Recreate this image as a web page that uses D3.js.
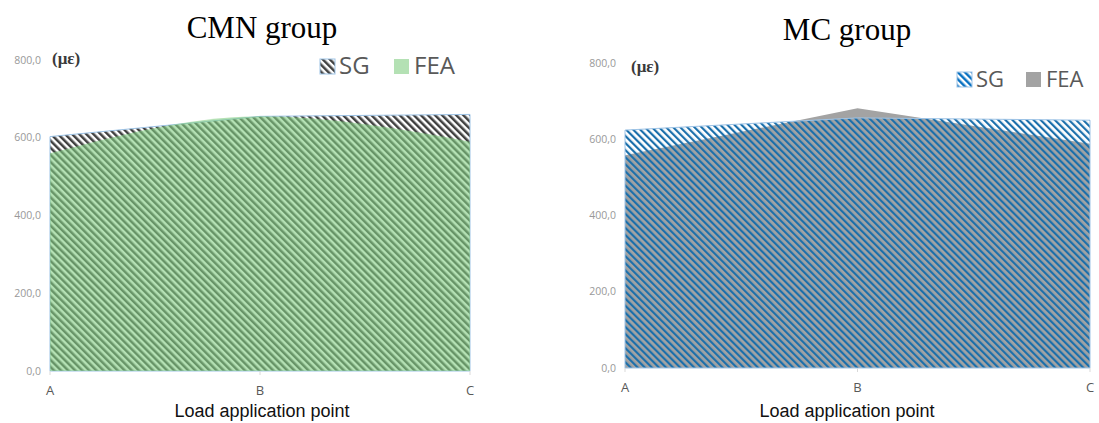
<!DOCTYPE html>
<html><head><meta charset="utf-8">
<script src="https://cdn.jsdelivr.net/npm/d3@7"></script>
<style>body{margin:0;background:#fff}svg{display:block}</style>
</head><body>
<svg id="c" width="1099" height="423"></svg>
<script>
const categories = ["A", "B", "C"];
const yTicks = [0, 200, 400, 600, 800];
const cmnSG  = [603, 655, 660];
const cmnFEA = [560, 655, 590];
const mcSG   = [624, 656, 650];
const mcFEA  = [558, 681, 588];

const svg = d3.select("#c");
const defs = svg.append("defs");
function hatch(id, fg, bg, fgOpacity, w) {
  const p = defs.append("pattern").attr("id", id).attr("patternUnits", "userSpaceOnUse")
    .attr("width", 5).attr("height", 5).attr("patternTransform", "rotate(-45)");
  if (bg) p.append("rect").attr("width", 5).attr("height", 5).attr("fill", bg);
  p.append("rect").attr("width", w).attr("height", 5).attr("fill", fg).attr("fill-opacity", fgOpacity);
}
hatch("hBlack", "#404040", "#ffffff", 1, 2.5);
hatch("hBlue", "#1b6fab", null, 1, 2.2);
hatch("hBlueLeg", "#0a72c2", "#ffffff", 1, 2.5);

const fmt = v => d3.format(".1f")(v).replace(".", ",");

function drawChart(o) {
  const x = d3.scalePoint().domain(categories).range([o.x0, o.x1]);
  const y = d3.scaleLinear().domain([0, 800]).range([o.y0, o.y1]);
  const g = svg.append("g");
  g.selectAll(".yt").data(yTicks).join("text")
    .attr("x", o.x0 - 9).attr("y", d => y(d)).attr("dy", "0.35em")
    .attr("text-anchor", "end").attr("font-family", "Open Sans, sans-serif")
    .attr("font-size", 10.5).attr("fill", "#999").text(fmt);
  const sgArea = d3.area().x((d, i) => x(categories[i])).y0(y(0)).y1(d => y(d));
  const feaArea = d3.area().x((d, i) => x(categories[i])).y0(y(0)).y1(d => y(d)).curve(o.feaCurve);
  const sgPath = () => g.append("path").datum(o.sg).attr("d", sgArea).attr("fill", o.sgFill)
    .attr("stroke", o.sgStroke).attr("stroke-width", 1);
  const feaPath = () => g.append("path").datum(o.fea).attr("d", feaArea).attr("fill", o.feaColor)
    .attr("fill-opacity", o.feaOpacity);
  if (o.sgOnTop) { feaPath(); sgPath(); } else { sgPath(); feaPath(); }
  g.selectAll(".xtk").data(categories).join("line")
    .attr("x1", d => x(d)).attr("x2", d => x(d)).attr("y1", y(0)).attr("y2", y(0) + 4)
    .attr("stroke", "#d9d9d9");
  g.selectAll(".xt").data(categories).join("text")
    .attr("x", d => x(d)).attr("y", y(0) + 24).attr("text-anchor", "middle")
    .attr("font-family", "Open Sans, sans-serif").attr("font-size", 13).attr("fill", "#595959").text(d => d);
  g.append("text").attr("x", o.titleX).attr("y", 417).attr("text-anchor", "middle")
    .attr("font-family", "Liberation Sans, Arial, sans-serif").attr("font-size", 18).attr("fill", "#111")
    .text("Load application point");
  g.append("text").attr("x", o.titleX).attr("y", o.titleY).attr("text-anchor", "middle")
    .attr("font-family", "Liberation Serif, Times New Roman, serif").attr("font-size", 31).attr("fill", "#000")
    .text(o.title);
  g.append("text").attr("x", o.unitX).attr("y", o.unitY).attr("dy", "0.35em")
    .attr("font-family", "Liberation Serif, serif").attr("font-size", 17).attr("fill", "#3a3a3a")
    .attr("font-weight", "bold").text("(με)");
  const L = o.legend;
  g.append("rect").attr("x", L.x).attr("y", L.y).attr("width", 15).attr("height", 15)
    .attr("fill", o.legSgFill).attr("stroke", o.sgStroke);
  g.append("text").attr("x", L.x + 19).attr("y", L.y + 15).attr("font-family", "Open Sans, sans-serif")
    .attr("font-size", L.fs).attr("fill", "#595959").text("SG");
  g.append("rect").attr("x", L.x2).attr("y", L.y).attr("width", 15).attr("height", 15)
    .attr("fill", o.feaColor).attr("fill-opacity", o.legendFeaOpacity);
  g.append("text").attr("x", L.x2 + 20).attr("y", L.y + 15).attr("font-family", "Open Sans, sans-serif")
    .attr("font-size", L.fs).attr("fill", "#595959").text("FEA");
}

drawChart({
  x0: 50, x1: 470, y0: 371, y1: 60, sg: cmnSG, fea: cmnFEA, sgOnTop: false,
  sgFill: "url(#hBlack)", legSgFill: "url(#hBlack)", sgStroke: "#9dc3e6",
  feaColor: "#82cd82", feaOpacity: 0.6, legendFeaOpacity: 0.6,
  feaCurve: d3.curveMonotoneX, title: "CMN group", titleX: 262, titleY: 38, unitX: 52, unitY: 58,
  legend: {x: 320, y: 59, x2: 394, fs: 24}
});
drawChart({
  x0: 625, x1: 1090, y0: 368, y1: 63, sg: mcSG, fea: mcFEA, sgOnTop: true,
  sgFill: "url(#hBlue)", legSgFill: "url(#hBlueLeg)", sgStroke: "#9dc3e6",
  feaColor: "#a3a3a3", feaOpacity: 1, legendFeaOpacity: 1,
  feaCurve: d3.curveLinear, title: "MC group", titleX: 847, titleY: 40, unitX: 631, unitY: 66,
  legend: {x: 957, y: 72, x2: 1026, fs: 22}
});
</script>
</body></html>
